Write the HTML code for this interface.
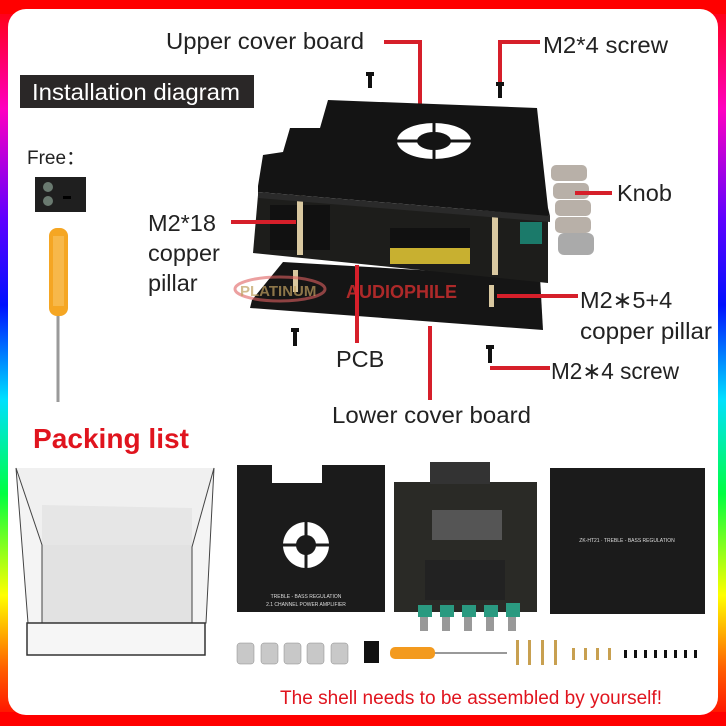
<!DOCTYPE html>
<html><head><meta charset="utf-8"><style>
html,body{margin:0;padding:0;width:726px;height:726px;overflow:hidden;background:#f00}
.frame{position:absolute;left:0;top:0;width:726px;height:726px;background:linear-gradient(to bottom,#ff0000 0%,#ff00c0 15%,#6000ff 30%,#0010ff 42%,#00e0ff 55%,#00ff40 68%,#ffff00 82%,#ff6000 92%,#ff0000 100%)}
.topbar{position:absolute;left:0;top:0;width:726px;height:14px;background:#f00}
.botbar{position:absolute;left:0;bottom:0;width:726px;height:14px;background:#f00}
.panel{position:absolute;left:8px;top:9px;width:710px;height:706px;background:#fff;border-radius:18px}
svg{position:absolute;left:0;top:0}
text{font-family:"Liberation Sans",Arial,sans-serif}
</style></head><body>
<div class="frame"></div><div class="topbar"></div><div class="botbar"></div>
<div class="panel"></div>
<svg width="726" height="726" viewBox="0 0 726 726">
<text x="166" y="49" font-size="23.5" fill="#222" textLength="198" lengthAdjust="spacingAndGlyphs">Upper cover board</text>
<polyline points="384,42 420,42 420,110" fill="none" stroke="#d61f2a" stroke-width="4"/>
<text x="543" y="53" font-size="23.5" fill="#222" textLength="125" lengthAdjust="spacingAndGlyphs">M2*4 screw</text>
<polyline points="540,42 500,42 500,82" fill="none" stroke="#d61f2a" stroke-width="4"/>
<rect x="20" y="75" width="234" height="33" fill="#2a2727"/>
<text x="32" y="100" font-size="23.5" fill="#fff" textLength="208" lengthAdjust="spacingAndGlyphs">Installation diagram</text>
<text x="27" y="164" font-size="19" fill="#222">Free：</text>
<rect x="35" y="177" width="51" height="35" fill="#1f1f1f"/>
<circle cx="48" cy="187" r="5" fill="#6a7a70"/><circle cx="48" cy="201" r="5" fill="#6a7a70"/>
<rect x="63" y="196" width="8" height="3" fill="#000"/>
<rect x="49" y="228" width="19" height="88" rx="8" fill="#f5a623"/>
<rect x="53" y="236" width="11" height="70" fill="#f7b84a"/>
<rect x="56.5" y="316" width="3" height="86" fill="#9a9a9a"/>
<g fill="#111">
<rect x="366" y="72" width="8" height="4"/><rect x="368" y="74" width="4" height="14"/>
<rect x="496" y="82" width="8" height="4"/><rect x="498" y="84" width="4" height="14"/>
<rect x="291" y="328" width="8" height="4"/><rect x="293" y="330" width="4" height="16"/>
<rect x="486" y="345" width="8" height="4"/><rect x="488" y="347" width="4" height="16"/>
</g>
<polygon points="283,262 540,277 543,330 250,308 252,300" fill="#151515"/>
<polygon points="258,195 548,215 548,283 253,253" fill="#1d1d1b"/>
<rect x="270" y="205" width="60" height="45" fill="#111"/>
<rect x="390" y="228" width="80" height="22" fill="#111"/>
<rect x="390" y="248" width="80" height="16" fill="#c8b030"/>
<rect x="520" y="222" width="22" height="22" fill="#1b7a6a"/>
<rect x="297" y="195" width="6" height="60" fill="#d9c8a0"/>
<rect x="492" y="215" width="6" height="60" fill="#d9c8a0"/>
<rect x="293" y="270" width="5" height="22" fill="#d9c8a0"/>
<rect x="489" y="285" width="5" height="22" fill="#d9c8a0"/>
<polygon points="258,186 263,155 283,152 290,128 320,128 328,100 537,108 548,208 550,216 258,192" fill="#141414"/>
<polygon points="258,192 550,216 550,222 258,198" fill="#2a2a2a"/>
<ellipse cx="434" cy="141" rx="37" ry="18" fill="#fff"/>
<ellipse cx="434" cy="141" rx="17" ry="9" fill="#141414"/>
<line x1="397" y1="141" x2="471" y2="141" stroke="#141414" stroke-width="3"/>
<line x1="434" y1="123" x2="434" y2="159" stroke="#141414" stroke-width="3"/>
<g fill="#b8b0a8">
<rect x="551" y="165" width="36" height="16" rx="5"/><rect x="553" y="183" width="36" height="16" rx="5"/>
<rect x="555" y="200" width="36" height="16" rx="5"/><rect x="555" y="217" width="36" height="16" rx="5"/>
<rect x="558" y="233" width="36" height="22" rx="6" fill="#aaa"/>
</g>
<ellipse cx="280" cy="289" rx="45" ry="12" fill="none" stroke="#e06060" stroke-width="3" opacity="0.6"/>
<text x="240" y="296" font-size="15" font-weight="bold" fill="#c0a060" opacity="0.7">PLATINUM</text>
<text x="346" y="298" font-size="18" font-weight="bold" fill="#e03030" opacity="0.75">AUDIOPHILE</text>
<text x="148" y="231" font-size="23.5" fill="#222">M2*18</text>
<text x="148" y="261" font-size="23.5" fill="#222">copper</text>
<text x="148" y="291" font-size="23.5" fill="#222">pillar</text>
<line x1="231" y1="222" x2="296" y2="222" stroke="#d61f2a" stroke-width="4"/>
<text x="617" y="201" font-size="23.5" fill="#222">Knob</text>
<line x1="575" y1="193" x2="612" y2="193" stroke="#d61f2a" stroke-width="4"/>
<text x="580" y="308" font-size="23.5" fill="#222">M2∗5+4</text>
<text x="580" y="339" font-size="23.5" fill="#222" textLength="132" lengthAdjust="spacingAndGlyphs">copper pillar</text>
<line x1="497" y1="296" x2="578" y2="296" stroke="#d61f2a" stroke-width="4"/>
<text x="336" y="367" font-size="23.5" fill="#222">PCB</text>
<line x1="357" y1="265" x2="357" y2="343" stroke="#d61f2a" stroke-width="4"/>
<text x="551" y="379" font-size="23.5" fill="#222" textLength="128" lengthAdjust="spacingAndGlyphs">M2∗4 screw</text>
<line x1="490" y1="368" x2="550" y2="368" stroke="#d61f2a" stroke-width="4"/>
<line x1="430" y1="326" x2="430" y2="400" stroke="#d61f2a" stroke-width="4"/>
<text x="332" y="423" font-size="23.5" fill="#222" textLength="199" lengthAdjust="spacingAndGlyphs">Lower cover board</text>
<text x="33" y="448" font-size="28" font-weight="bold" fill="#e0141e" textLength="156" lengthAdjust="spacingAndGlyphs">Packing list</text>
<!-- box -->
<polygon points="16,468 214,468 200,545 30,545" fill="#f0f0f0"/>
<polygon points="42,505 192,508 192,547 42,545" fill="#e6e6e6"/>
<rect x="42" y="545" width="150" height="78" fill="#e2e2e2"/>
<polygon points="16,468 42,545 42,623 28,623 22,545" fill="#f4f4f4" stroke="#444" stroke-width="1"/>
<polygon points="214,468 192,547 192,623 206,623 210,545" fill="#f4f4f4" stroke="#444" stroke-width="1"/>
<rect x="27" y="623" width="178" height="32" fill="#f6f6f6" stroke="#333" stroke-width="1.5"/>
<rect x="237" y="465" width="148" height="147" fill="#1b1b1b"/>
<rect x="272" y="465" width="50" height="18" fill="#fff"/>
<circle cx="306" cy="545" r="23" fill="#fff"/><circle cx="306" cy="545" r="10" fill="#1b1b1b"/>
<line x1="283" y1="545" x2="329" y2="545" stroke="#1b1b1b" stroke-width="3"/>
<line x1="306" y1="522" x2="306" y2="568" stroke="#1b1b1b" stroke-width="3"/>
<text x="306" y="598" font-size="5" fill="#ddd" text-anchor="middle">TREBLE - BASS REGULATION</text>
<text x="306" y="606" font-size="5" fill="#ddd" text-anchor="middle">2.1 CHANNEL POWER AMPLIFIER</text>
<rect x="394" y="482" width="143" height="130" fill="#2a2a26"/>
<rect x="430" y="462" width="60" height="22" fill="#333"/>
<rect x="432" y="510" width="70" height="30" fill="#555"/>
<rect x="425" y="560" width="80" height="40" fill="#222"/>
<g fill="#2a9a80"><rect x="418" y="605" width="14" height="12"/><rect x="440" y="605" width="14" height="12"/><rect x="462" y="605" width="14" height="12"/><rect x="484" y="605" width="14" height="12"/><rect x="506" y="603" width="14" height="14"/></g>
<g fill="#999"><rect x="420" y="617" width="8" height="14"/><rect x="442" y="617" width="8" height="14"/><rect x="464" y="617" width="8" height="14"/><rect x="486" y="617" width="8" height="14"/><rect x="508" y="617" width="8" height="14"/></g>
<rect x="550" y="468" width="155" height="146" fill="#1b1b1b"/>
<text x="627" y="542" font-size="5" fill="#ddd" text-anchor="middle">ZK-HT21 · TREBLE - BASS REGULATION</text>
<g fill="#c8c8c8" stroke="#888" stroke-width="0.5">
<rect x="237" y="643" width="17" height="21" rx="3"/><rect x="261" y="643" width="17" height="21" rx="3"/><rect x="284" y="643" width="17" height="21" rx="3"/><rect x="307" y="643" width="17" height="21" rx="3"/><rect x="331" y="643" width="17" height="21" rx="3"/>
</g>
<rect x="364" y="641" width="15" height="22" fill="#111"/>
<rect x="390" y="647" width="45" height="12" rx="5" fill="#f39a1e"/>
<rect x="435" y="652" width="72" height="2" fill="#999"/>
<g fill="#c8a050"><rect x="516" y="640" width="3" height="25"/><rect x="528" y="640" width="3" height="25"/><rect x="541" y="640" width="3" height="25"/><rect x="554" y="640" width="3" height="25"/>
<rect x="572" y="648" width="3" height="12"/><rect x="584" y="648" width="3" height="12"/><rect x="596" y="648" width="3" height="12"/><rect x="608" y="648" width="3" height="12"/></g>
<g fill="#111"><rect x="624" y="650" width="3" height="8"/><rect x="634" y="650" width="3" height="8"/><rect x="644" y="650" width="3" height="8"/><rect x="654" y="650" width="3" height="8"/><rect x="664" y="650" width="3" height="8"/><rect x="674" y="650" width="3" height="8"/><rect x="684" y="650" width="3" height="8"/><rect x="694" y="650" width="3" height="8"/></g>
<text x="280" y="704" font-size="19" fill="#e0141e" textLength="382" lengthAdjust="spacingAndGlyphs">The shell needs to be assembled by yourself!</text>
</svg>
</body></html>
